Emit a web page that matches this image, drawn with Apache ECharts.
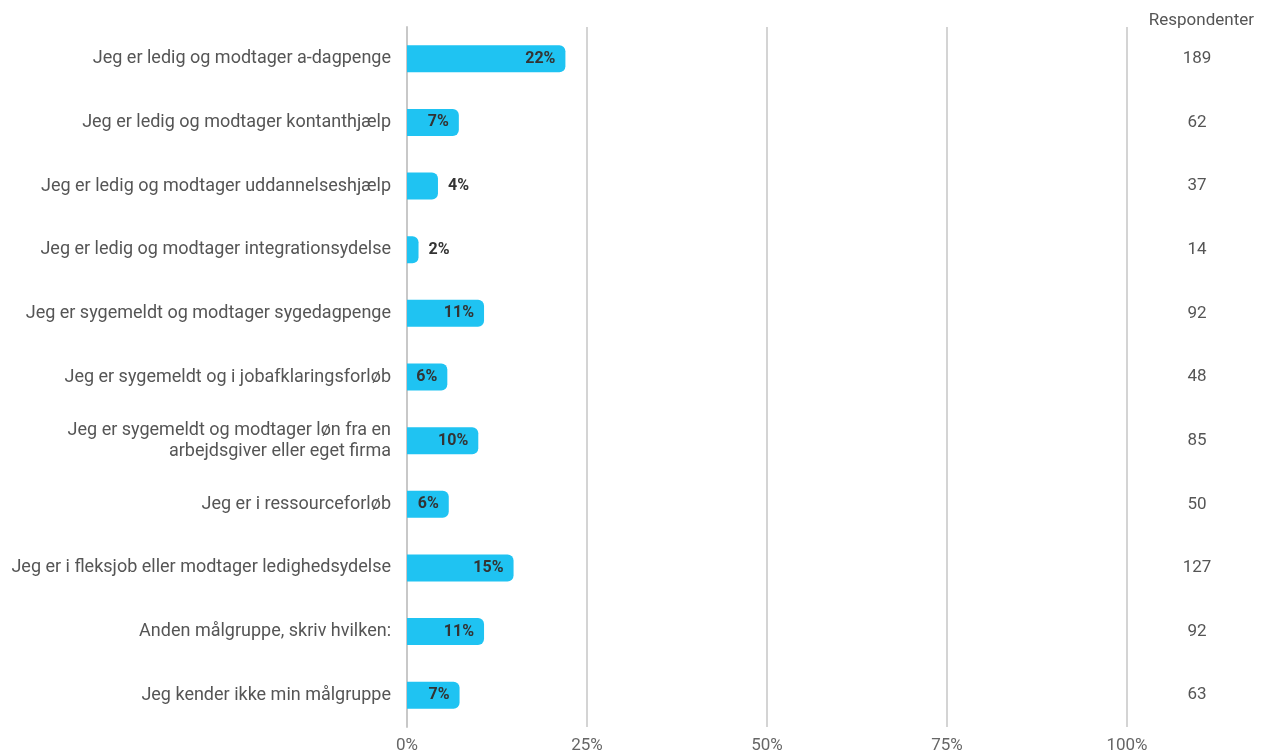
<!DOCTYPE html>
<html>
<head>
<meta charset="utf-8">
<script src="https://cdn.jsdelivr.net/npm/echarts@6/dist/echarts.min.js"></script>
<style>html,body{margin:0;padding:0;background:#fff}#c{width:1261px;height:754px}</style>
</head>
<body>
<div id="c"></div>
<script>
const categories = [
  'Jeg er ledig og modtager a-dagpenge',
  'Jeg er ledig og modtager kontanthjælp',
  'Jeg er ledig og modtager uddannelseshjælp',
  'Jeg er ledig og modtager integrationsydelse',
  'Jeg er sygemeldt og modtager sygedagpenge',
  'Jeg er sygemeldt og i jobafklaringsforløb',
  'Jeg er sygemeldt og modtager løn fra en\narbejdsgiver eller eget firma',
  'Jeg er i ressourceforløb',
  'Jeg er i fleksjob eller modtager ledighedsydelse',
  'Anden målgruppe, skriv hvilken:',
  'Jeg kender ikke min målgruppe'
];
const percentValues = [22.0, 7.2, 4.3, 1.6, 10.7, 5.6, 9.9, 5.8, 14.8, 10.7, 7.3];
const respondents = [189, 62, 37, 14, 92, 48, 85, 50, 127, 92, 63];
const xTicks = ['0%', '25%', '50%', '75%', '100%'];

const chart = echarts.init(document.getElementById('c'));
const font = 'Roboto, "Noto Sans", sans-serif';
chart.setOption({
  animation: false,
  textStyle: { fontFamily: font },
  title: {
    text: 'Respondenter', right: 2, top: 7,
    textStyle: { fontSize: 17, fontWeight: 'normal', color: '#555', fontFamily: font }
  },
  grid: { left: 407, right: 134, top: 27, bottom: 27, containLabel: false },
  xAxis: {
    type: 'value', min: 0, max: 100, interval: 25,
    axisLine: { show: false }, axisTick: { show: false },
    splitLine: { lineStyle: { color: '#d4d4d4', width: 2 } },
    axisLabel: {
      margin: 10, color: '#666', fontSize: 17, fontFamily: font,
      formatter: (v) => xTicks[Math.round(v / 25)]
    }
  },
  yAxis: [{
    type: 'category', data: categories, inverse: true,
    axisLine: { show: true, lineStyle: { color: '#c8c8c8', width: 2 } },
    axisTick: { show: false },
    axisLabel: { margin: 16, color: '#555', fontSize: 18, lineHeight: 21, fontFamily: font }
  }, {
    type: 'category', data: respondents.map(String), inverse: true, position: 'right',
    axisLine: { show: false }, axisTick: { show: false },
    axisLabel: { margin: 70, align: 'center', color: '#555', fontSize: 17, fontFamily: font }
  }],
  series: [{
    type: 'bar', barWidth: 27,
    data: percentValues.map(v => v < 5
      ? { value: v, label: { position: 'right', distance: 10 } }
      : { value: v }),
    itemStyle: { color: '#1fc3f2', borderRadius: [0, 6, 6, 0] },
    label: {
      show: true, fontSize: 16, fontWeight: 'bold', color: '#333', fontFamily: font,
      formatter: (p) => Math.round(p.value) + '%',
      position: 'insideRight', distance: 10
    }
  }]
});
</script>
</body>
</html>
